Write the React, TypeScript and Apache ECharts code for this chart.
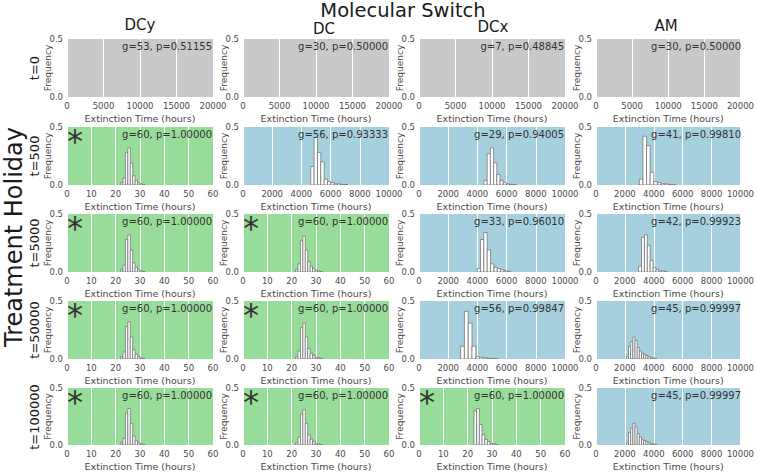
import React, { useEffect, useRef } from 'react';
import * as echarts from 'echarts';

// ---------- data ----------
const rowLabels = ['t=0', 't=500', 't=5000', 't=50000', 't=100000'];
const colLabels = ['DCy', 'DC', 'DCx', 'AM'];
const gValues = [
  [53, 30, 7, 30],
  [60, 56, 29, 41],
  [60, 60, 33, 42],
  [60, 60, 56, 45],
  [60, 60, 60, 45],
];
const pValues = [
  [0.51155, 0.5, 0.48845, 0.5],
  [1.0, 0.93333, 0.94005, 0.9981],
  [1.0, 1.0, 0.9601, 0.99923],
  [1.0, 1.0, 0.99847, 0.99997],
  [1.0, 1.0, 1.0, 0.99997],
];
const baselineTicks = [0, 5000, 10000, 15000, 20000];
const hourTicks = [0, 10, 20, 30, 40, 50, 60];
const longTicks = [0, 2000, 4000, 6000, 8000, 10000];
const freqTicks = [0, 0.5];

// histogram bins: left edge of first bin, bin width, frequencies
const dcyStart = 22, dcyWidth = 1;
const dcyFreq = [0.02, 0.06, 0.28, 0.32, 0.19, 0.08, 0.04, 0.02, 0.01, 0.005];
const dcGreenStart = 21.6, dcGreenWidth = 1;
const dcGreenFreq = [0.02, 0.07, 0.27, 0.31, 0.19, 0.09, 0.05, 0.03, 0.015, 0.01, 0.005];
const dcxGreenStart = 22.6, dcxGreenWidth = 1.1;
const dcxGreenFreq = [0.30, 0.32, 0.18, 0.09, 0.05, 0.03, 0.015, 0.01, 0.005];
const dc500Start = 4640, dc500Width = 230;
const dc500Freq = [0.16, 0.41, 0.28, 0.2, 0.05, 0.03, 0.02, 0.01, 0.01, 0.005, 0.005];
const dcx500Start = 4450, dcx500Width = 220;
const dcx500Freq = [0.04, 0.27, 0.32, 0.19, 0.09, 0.04, 0.02, 0.01, 0.005, 0.003];
const am500Start = 3000, am500Width = 250;
const am500Freq = [0.05, 0.42, 0.34, 0.11, 0.03, 0.02, 0.01, 0.01, 0.005, 0.003];
const dcx5000Start = 3980, dcx5000Width = 230;
const dcx5000Freq = [0.03, 0.28, 0.34, 0.19, 0.07, 0.04, 0.03, 0.02, 0.01, 0.005];
const am5000Start = 2950, am5000Width = 200;
const am5000Freq = [0.05, 0.3, 0.32, 0.23, 0.1, 0.04, 0.02, 0.01, 0.01, 0.005];
const dcx50000Start = 2850, dcx50000Width = 260;
const dcx50000Freq = [0.11, 0.41, 0.31, 0.11, 0.02, 0.015, 0.01, 0.005, 0.005, 0.003];
const am50000Start = 2100, am50000Width = 150;
const am50000Freq = [0.02, 0.11, 0.15, 0.19, 0.16, 0.1, 0.07, 0.05, 0.04, 0.03, 0.02, 0.01, 0.01, 0.005];

const histograms: Record<string, { start: number; width: number; freq: number[] }> = {
  dcy: { start: dcyStart, width: dcyWidth, freq: dcyFreq },
  dcGreen: { start: dcGreenStart, width: dcGreenWidth, freq: dcGreenFreq },
  dcxGreen: { start: dcxGreenStart, width: dcxGreenWidth, freq: dcxGreenFreq },
  dc500: { start: dc500Start, width: dc500Width, freq: dc500Freq },
  dcx500: { start: dcx500Start, width: dcx500Width, freq: dcx500Freq },
  am500: { start: am500Start, width: am500Width, freq: am500Freq },
  dcx5000: { start: dcx5000Start, width: dcx5000Width, freq: dcx5000Freq },
  am5000: { start: am5000Start, width: am5000Width, freq: am5000Freq },
  dcx50000: { start: dcx50000Start, width: dcx50000Width, freq: dcx50000Freq },
  am50000: { start: am50000Start, width: am50000Width, freq: am50000Freq },
};
const panelHist: (string | null)[][] = [
  [null, null, null, null],
  ['dcy', 'dc500', 'dcx500', 'am500'],
  ['dcy', 'dcGreen', 'dcx5000', 'am5000'],
  ['dcy', 'dcGreen', 'dcx50000', 'am50000'],
  ['dcy', 'dcGreen', 'dcxGreen', 'am50000'],
];

// ---------- layout / style ----------
const FONT = 'DejaVu Sans';
const colLeft = [67, 243, 419, 596];
const rowTop = [39, 127, 214, 301, 388];
const PW = 146;
const PH = 58;
const GREY = '#c9c9c9';
const GREEN = '#98dc9a';
const BLUE = '#a6d0de';
const colTitlePos = [
  [140, 25],
  [324, 29],
  [493, 27],
  [666, 26],
];

function buildOption() {
  const grid: any[] = [];
  const xAxis: any[] = [];
  const yAxis: any[] = [];
  const series: any[] = [];
  const graphic: any[] = [];

  graphic.push({
    type: 'text', x: 403, y: 10.5,
    style: { text: 'Molecular Switch', font: `19.5px "${FONT}"`, lineHeight: 19, fill: '#1a1a1a', textAlign: 'center', textVerticalAlign: 'middle' },
  });
  colLabels.forEach((c, j) => {
    graphic.push({
      type: 'text', x: colTitlePos[j][0], y: colTitlePos[j][1],
      style: { text: c, font: `15px "${FONT}"`, lineHeight: 15, fill: '#1a1a1a', textAlign: 'center', textVerticalAlign: 'middle' },
    });
  });
  graphic.push({
    type: 'text', x: 14, y: 237, rotation: Math.PI / 2,
    style: { text: 'Treatment Holiday', font: `24px "${FONT}"`, fill: '#1a1a1a', textAlign: 'center', textVerticalAlign: 'middle' },
  });

  let idx = 0;
  rowLabels.forEach((rl, i) => {
    graphic.push({
      type: 'text', x: 34, y: rowTop[i] + PH / 2, rotation: Math.PI / 2,
      style: { text: rl, font: `13px "${FONT}"`, fill: '#1a1a1a', textAlign: 'center', textVerticalAlign: 'middle' },
    });
    colLabels.forEach((_, j) => {
      const p = pValues[i][j];
      const sig = i > 0 && p >= 1;
      const ticks = i === 0 ? baselineTicks : sig ? hourTicks : longTicks;
      const bg = i === 0 ? GREY : sig ? GREEN : BLUE;
      grid.push({
        left: colLeft[j], top: rowTop[i], width: PW, height: PH,
        show: true, backgroundColor: bg, borderWidth: 0, containLabel: false,
      });
      xAxis.push({
        gridIndex: idx, type: 'value',
        min: ticks[0], max: ticks[ticks.length - 1], interval: ticks[1] - ticks[0],
        axisLine: { show: false }, axisTick: { show: false },
        splitLine: { show: true, lineStyle: { color: '#ffffff', width: 1 } },
        axisLabel: {
          fontSize: 8.5, color: '#4a4a4a', margin: 4, fontFamily: FONT,
          showMinLabel: true, showMaxLabel: true, hideOverlap: false,
          formatter: (v: number) => String(v),
        },
        name: 'Extinction Time (hours)', nameLocation: 'middle', nameGap: 16,
        nameMoveOverlap: false,
        nameTextStyle: { fontSize: 9.5, color: '#4a4a4a', fontFamily: FONT },
      });
      yAxis.push({
        gridIndex: idx, type: 'value',
        min: freqTicks[0], max: freqTicks[1], interval: freqTicks[1] - freqTicks[0],
        axisLine: { show: false }, axisTick: { show: false }, splitLine: { show: false },
        axisLabel: { fontSize: 8.5, color: '#4a4a4a', margin: 4, fontFamily: FONT, formatter: (v: number) => v.toFixed(1) },
        name: 'Frequency', nameLocation: 'middle', nameGap: 15,
        nameMoveOverlap: false,
        nameTextStyle: { fontSize: 9, color: '#4a4a4a', fontFamily: FONT },
      });
      const key = panelHist[i][j];
      const h = key ? histograms[key] : null;
      const data = h ? h.freq.map((f, k) => [h.start + k * h.width, h.start + (k + 1) * h.width, f]) : [];
      series.push({
        type: 'custom', xAxisIndex: idx, yAxisIndex: idx, data, clip: true,
        encode: { x: [0, 1], y: 2 },
        renderItem: (params: any, api: any) => {
          const a = api.coord([api.value(0), api.value(2)]);
          const b = api.coord([api.value(1), 0]);
          return {
            type: 'rect',
            shape: { x: a[0], y: a[1], width: b[0] - a[0], height: b[1] - a[1] },
            style: { fill: '#ffffff', stroke: '#6a6a6a', lineWidth: 0.7 },
          };
        },
      });
      graphic.push({
        type: 'text', x: colLeft[j] + PW - 1, y: rowTop[i] + 2,
        style: { text: `g=${gValues[i][j]}, p=${p.toFixed(5)}`, font: `10px "${FONT}"`, fill: '#333333', textAlign: 'right', textVerticalAlign: 'top' },
        z: 100,
      });
      if (sig) {
        graphic.push({
          type: 'text', x: colLeft[j] + 8, y: rowTop[i] + 14,
          style: { text: '*', font: `32px "${FONT}"`, fill: '#333333', textAlign: 'center', textVerticalAlign: 'middle' },
          z: 100,
        });
      }
      idx++;
    });
  });

  return { animation: false, backgroundColor: '#ffffff', grid, xAxis, yAxis, series, graphic };
}

export default function App() {
  const ref = useRef<HTMLDivElement>(null);
  useEffect(() => {
    if (!ref.current) return;
    const chart = echarts.init(ref.current, null, { renderer: 'svg' });
    chart.setOption(buildOption() as any);
    return () => chart.dispose();
  }, []);
  return <div ref={ref} style={{ position: 'absolute', left: 0, top: 0, width: 757, height: 472 }} />;
}
